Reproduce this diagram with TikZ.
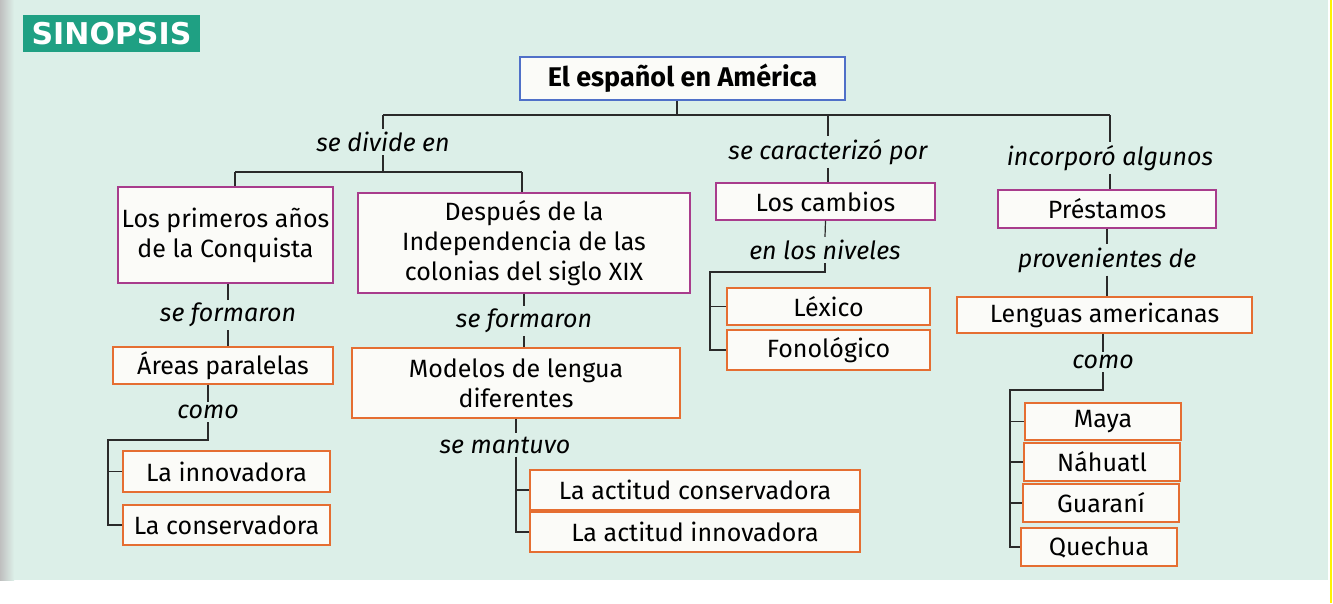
\documentclass[tikz,border=0pt]{standalone}
\usepackage{fontspec}
\setmainfont{Fira Sans}
\newfontfamily\headfont{DejaVu Sans}
\definecolor{bgmint}{HTML}{DCEFE8}
\definecolor{boxfill}{HTML}{FBFBF8}
\definecolor{purp}{HTML}{A83C8C}
\definecolor{orng}{HTML}{E56E32}
\definecolor{tblue}{HTML}{5070C8}
\definecolor{teal}{HTML}{1FA083}
\definecolor{lnc}{HTML}{2A2A2A}
\begin{document}
\begin{tikzpicture}[x=1pt,y=-1pt,
  box/.style={draw, fill=boxfill, line width=1.3pt, align=center, inner sep=0pt,
    font=\fontsize{25}{30}\selectfont},
  pbox/.style={box, draw=purp},
  obox/.style={box, draw=orng},
  lab/.style={font=\fontsize{25}{28}\selectfont\itshape, inner sep=3pt},
  ln/.style={draw=lnc, line width=1.2pt}]
\useasboundingbox (0,0) rectangle (1333,603);
% background
\fill[white] (0,0) rectangle (1333,603);
\fill[bgmint] (12,0) rectangle (1328,580);
\fill[left color=black!25, right color=bgmint] (0,0) rectangle (14,580);
\draw[yellow, line width=1.5pt] (1331,0) -- (1331,603);
% header
\node[fill=teal, text=white, font=\headfont\fontsize{30}{30}\selectfont\bfseries, minimum width=177, minimum height=37, inner sep=0pt] (sinopsis) at (111.5,33.5) {SINOPSIS};
% title
\node[box, draw=tblue, font=\fontsize{27}{30}\selectfont\bfseries, minimum width=325, minimum height=43] (title) at (682.5,78.5) {El español en América};
% labels level 1
\node[lab] (ldiv) at (383,142) {se divide en};
\node[lab] (lcar) at (828,152) {se caracterizó por};
\node[lab] (linc) at (1110,158) {incorporó algunos};
% level 1 boxes
\node[pbox, minimum width=215, minimum height=96] (prim) at (225.5,235) {Los primeros años\\de la Conquista};
\node[pbox, minimum width=332, minimum height=100] (desp) at (524,243) {Después de la\\Independencia de las\\colonias del siglo XIX};
\node[pbox, minimum width=219, minimum height=37] (camb) at (825.5,201.5) {Los cambios};
\node[pbox, minimum width=218, minimum height=38] (prest) at (1107,209) {Préstamos};
% left branch
\node[lab] (lform1) at (228,315) {se formaron};
\node[obox, minimum width=220, minimum height=37] (areas) at (223,365.5) {Áreas paralelas};
\node[lab] (lcomo1) at (208,412) {como};
\node[obox, minimum width=207, minimum height=41] (innov) at (226.5,471.5) {La innovadora};
\node[obox, minimum width=207, minimum height=40] (conse) at (226.5,525) {La conservadora};
% second branch
\node[lab] (lform2) at (524,321) {se formaron};
\node[obox, minimum width=328, minimum height=70] (model) at (516,383) {Modelos de lengua\\diferentes};
\node[lab] (lmant) at (505,445) {se mantuvo};
\node[obox, minimum width=330, minimum height=40] (acons) at (695,490) {La actitud conservadora};
\node[obox, minimum width=330, minimum height=40] (ainno) at (695,532) {La actitud innovadora};
% third branch
\node[lab] (lniv) at (825,250) {en los niveles};
\node[obox, minimum width=203, minimum height=37] (lex) at (828.5,306.5) {Léxico};
\node[obox, minimum width=203, minimum height=40] (fono) at (828.5,350) {Fonológico};
% fourth branch
\node[lab] (lprov) at (1107,260) {provenientes de};
\node[obox, minimum width=295, minimum height=36] (leng) at (1104.5,315) {Lenguas americanas};
\node[lab] (lcomo2) at (1103,362) {como};
\node[obox, minimum width=156, minimum height=37] (maya) at (1103,421.5) {Maya};
\node[obox, minimum width=156, minimum height=38] (nahu) at (1102,462) {Náhuatl};
\node[obox, minimum width=156, minimum height=38] (guar) at (1101,503) {Guaraní};
\node[obox, minimum width=156, minimum height=38] (quec) at (1099,547) {Quechua};
% connectors top
\coordinate (jL) at (383,115);
\coordinate (jM) at (828,115);
\coordinate (jR) at (1110,115);
\draw[ln] (title.south -| 677,0) -- (677,115);
\draw[ln] (jL) -- (jR);
\draw[ln] (jL) -- (ldiv.north);
\draw[ln] (jM) -- (lcar.north);
\draw[ln] (jR) -- (linc.north);
% se divide en
\coordinate (dL) at (235,172);
\coordinate (dR) at (522,172);
\draw[ln] (ldiv.south) -- (383,172);
\draw[ln] (dL) -- (dR);
\draw[ln] (dL) -- (dL |- prim.north);
\draw[ln] (dR) -- (dR |- desp.north);
% left branch
\draw[ln] (prim.south -| lform1) -- (lform1.north);
\draw[ln] (lform1.south) -- (areas.north -| lform1);
\draw[ln] (areas.south -| lcomo1) -- (lcomo1.north);
\coordinate (cL) at (108,440);
\draw[ln] (lcomo1.south) -- (208,440) -- (cL) -- (cL |- conse) -- (conse.west);
\draw[ln] (cL |- innov) -- (innov.west);
% second branch
\draw[ln] (desp.south -| lform2) -- (lform2.north);
\draw[ln] (lform2.south) -- (model.north -| lform2);
\draw[ln] (model.south) -- (model.south |- lmant.north);
\draw[ln] (model.south |- lmant.south) -- (model.south |- ainno) -- (ainno.west);
\draw[ln] (model.south |- acons) -- (acons.west);
% third branch
\draw[ln] (lcar.south) -- (camb.north -| lcar);
\draw[ln] (camb.south) -- (lniv.north);
\coordinate (nL) at (710,272);
\draw[ln] (lniv.south) -- (825,272) -- (nL) -- (nL |- fono) -- (fono.west);
\draw[ln] (nL |- lex) -- (lex.west);
% fourth branch
\draw[ln] (linc.south) -- (prest.north -| linc);
\draw[ln] (prest.south) -- (lprov.north);
\draw[ln] (lprov.south) -- (leng.north -| lprov);
\draw[ln] (leng.south -| lcomo2) -- (lcomo2.north);
\coordinate (mL) at (1010,390);
\draw[ln] (lcomo2.south) -- (1103,390) -- (mL) -- (mL |- quec) -- (quec.west);
\draw[ln] (mL |- maya) -- (maya.west);
\draw[ln] (mL |- nahu) -- (nahu.west);
\draw[ln] (mL |- guar) -- (guar.west);
\end{tikzpicture}
\end{document}
